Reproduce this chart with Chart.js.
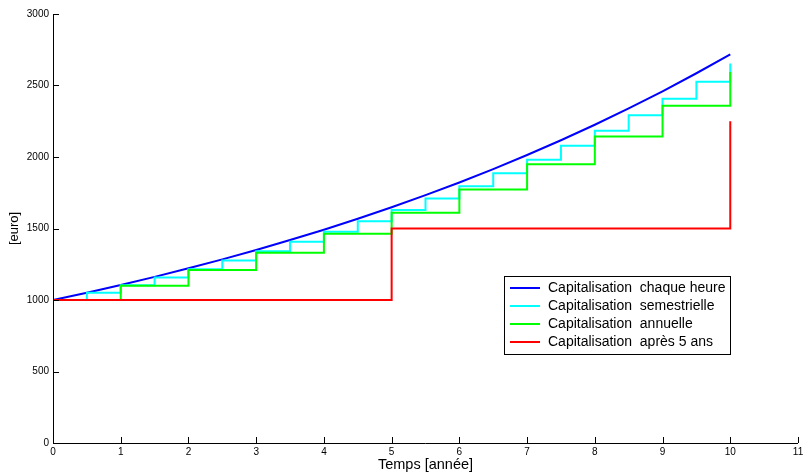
<!DOCTYPE html>
<html>
<head>
<meta charset="utf-8">
<script src="https://cdn.jsdelivr.net/npm/chart.js@4/dist/chart.umd.min.js"></script>
<style>
html,body{margin:0;padding:0;background:#fff;}
#wrap{width:803px;height:474px;position:relative;}
</style>
</head>
<body>
<div id="wrap"><canvas id="c" width="803" height="474"></canvas></div>
<script>
// ---- data ----
const xHalfYears = [0,0.5,1,1.5,2,2.5,3,3.5,4,4.5,5,5.5,6,6.5,7,7.5,8,8.5,9,9.5,10];
const hourly = [1000,1051.3,1105.2,1161.8,1221.4,1284.0,1349.9,1419.1,1491.8,1568.3,1648.7,1733.3,1822.1,1915.5,2013.8,2117.0,2225.5,2339.6,2459.6,2585.7,2718.3];
const semiannual = [1000,1050,1102.5,1157.6,1215.5,1276.3,1340.1,1407.1,1477.5,1551.3,1628.9,1710.3,1795.9,1885.6,1979.9,2078.9,2182.9,2292.0,2406.6,2527.0,2653.3];
const xYears = [0,1,2,3,4,5,6,7,8,9,10];
const annual = [1000,1100,1210,1331,1464,1611,1772,1949,2144,2358,2594];
const xFive = [0,5,10];
const after5 = [1000,1500,2250];
const seriesNames = ['Capitalisation  chaque heure','Capitalisation  semestrielle','Capitalisation  annuelle','Capitalisation  après 5 ans'];
const seriesColors = ['#0000ff','#00ffff','#00ff00','#ff0000'];
const xTicks = [0,1,2,3,4,5,6,7,8,9,10,11];
const yTicks = [0,500,1000,1500,2000,2500,3000];
const xTitle = 'Temps [année]';
const yTitle = '[euro]';

const pts = (xs, ys) => xs.map((x,i)=>({x:x,y:ys[i]}));
const FONT = 'Liberation Sans, Arial, Helvetica, sans-serif';

const innerTicks = {
  id:'innerTicks',
  afterDraw(chart){
    const ctx = chart.ctx, a = chart.chartArea;
    const xs = chart.scales.x, ys = chart.scales.y;
    ctx.save();
    ctx.strokeStyle = '#000'; ctx.lineWidth = 1;
    ctx.beginPath();
    ctx.moveTo(a.left+0.5, a.top); ctx.lineTo(a.left+0.5, a.bottom+0.5);
    ctx.lineTo(a.right, a.bottom+0.5);
    xTicks.forEach(v=>{const p=Math.round(xs.getPixelForValue(v))+0.5; ctx.moveTo(p,a.bottom); ctx.lineTo(p,a.bottom-6);});
    yTicks.forEach(v=>{const p=Math.round(ys.getPixelForValue(v))+0.5; ctx.moveTo(a.left,p); ctx.lineTo(a.left+6,p);});
    ctx.stroke();
    ctx.fillStyle = '#000';
    ctx.font = '14.5px ' + FONT;
    ctx.textAlign = 'center'; ctx.textBaseline = 'middle';
    ctx.fillText(xTitle, (a.left+a.right)/2, 465);
    ctx.save();
    ctx.translate(14, (a.top+a.bottom)/2);
    ctx.rotate(-Math.PI/2);
    ctx.font = '13px ' + FONT;
    ctx.fillText(yTitle, 0, 0);
    ctx.restore();
    const lx = 504, ly = 276, lw = 226, lh = 78;
    ctx.fillStyle = '#fff';
    ctx.fillRect(lx, ly, lw, lh);
    ctx.strokeStyle = '#000'; ctx.lineWidth = 1;
    ctx.strokeRect(lx+0.5, ly+0.5, lw, lh);
    ctx.font = '14px ' + FONT;
    ctx.textAlign = 'left'; ctx.textBaseline = 'middle';
    const rowY = [288, 306, 324, 342];
    seriesNames.forEach((n,i)=>{
      ctx.strokeStyle = seriesColors[i]; ctx.lineWidth = 2;
      ctx.beginPath(); ctx.moveTo(510, rowY[i]); ctx.lineTo(540, rowY[i]); ctx.stroke();
      ctx.fillStyle = '#000';
      ctx.fillText(n, 548, rowY[i]);
    });
    ctx.restore();
  }
};

const mk = (i, data, order, stepped) => ({
  label: seriesNames[i], data, borderColor: seriesColors[i], backgroundColor: seriesColors[i],
  borderWidth: 2, pointRadius: 0, fill: false, tension: 0, stepped: stepped, order: order
});

new Chart(document.getElementById('c'), {
  type: 'line',
  data: { datasets: [
    mk(0, pts(xHalfYears, hourly), 3, false),
    mk(1, pts(xHalfYears, semiannual), 2, 'before'),
    mk(2, pts(xYears, annual), 1, 'before'),
    mk(3, pts(xFive, after5), 0, 'before')
  ]},
  options: {
    responsive: false, animation: false, devicePixelRatio: 1,
    layout: { padding: { top: 14, right: 5, left: 0, bottom: 0 } },
    plugins: { legend: { display: false }, tooltip: { enabled: false } },
    scales: {
      x: {
        type: 'linear', min: 0, max: 11,
        afterBuildTicks: s => { s.ticks = xTicks.map(v=>({value:v})); },
        afterFit: s => { s.height = 31; s.paddingLeft = 0; s.paddingRight = 0; },
        grid: { display: false, drawTicks: false }, border: { display: false },
        ticks: { color: '#000', font: { family: FONT, size: 10 }, padding: 3, maxRotation: 0, callback: v => String(v) }
      },
      y: {
        type: 'linear', min: 0, max: 3000,
        afterBuildTicks: s => { s.ticks = yTicks.map(v=>({value:v})); },
        afterFit: s => { s.width = 53; s.paddingTop = 0; s.paddingBottom = 0; },
        grid: { display: false, drawTicks: false }, border: { display: false },
        ticks: { color: '#000', font: { family: FONT, size: 10 }, padding: 4, callback: v => String(v) }
      }
    }
  },
  plugins: [innerTicks]
});
</script>
</body>
</html>
